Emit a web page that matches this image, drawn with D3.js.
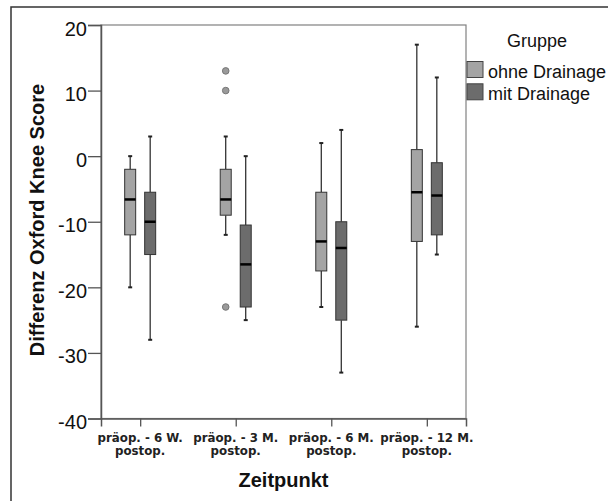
<!DOCTYPE html>
<html><head><meta charset="utf-8">
<script src="https://cdn.jsdelivr.net/npm/d3@7"></script>
<style>body{margin:0;background:#fff;}svg{display:block;}</style>
</head><body>
<svg id="c" width="608" height="501"></svg>
<script>
const categories = ["präop. - 6 W.|postop.", "präop. - 3 M.|postop.", "präop. - 6 M.|postop.", "präop. - 12 M.|postop."];
const groups = ["ohne Drainage", "mit Drainage"];
// [whiskerLow, Q1, median, Q3, whiskerHigh]
const ohneDrainage = [[-20, -12, -6.6, -2, 0], [-12, -9, -6.6, -2, 3], [-23, -17.5, -13, -5.5, 2], [-26, -13, -5.5, 1, 17]];
const mitDrainage = [[-28, -15, -10, -5.5, 3], [-25, -23, -16.5, -10.5, 0], [-33, -25, -14, -10, 4], [-15, -12, -6, -1, 12]];
const ohneOutliers = [[], [13, 10, -23], [], []];
const mitOutliers = [[], [], [], []];
const yTicks = [20, 10, 0, -10, -20, -30, -40];
const colors = ["#a4a4a4", "#6c6c6c"];

const svg = d3.select("#c");
const L = 101, R = 466, T = 25, B = 418.5;
const y = d3.scaleLinear().domain([-40, 20]).range([B, T]);
const x = d3.scalePoint().domain(categories).range([L, R]).padding(0.41);
const sub = d3.scalePoint().domain(groups).range([-10, 10]);

// outer frame
svg.append("path").attr("d", "M11,510V7H620").attr("fill", "none").attr("stroke", "#333").attr("stroke-width", 1.5);

// plot frame
svg.append("rect").attr("x", L).attr("y", T).attr("width", R - L).attr("height", B - T)
  .attr("fill", "none").attr("stroke", "#808080").attr("stroke-width", 1.2);

// y axis
const ya = svg.append("g").attr("transform", `translate(${L},0)`)
  .call(d3.axisLeft(y).tickValues(yTicks).tickSize(13).tickPadding(1).tickFormat(d => String(d)));
ya.select(".domain").attr("stroke", "#555").attr("stroke-width", 1.5);
ya.selectAll(".tick line").attr("stroke", "#555").attr("stroke-width", 1.3);
ya.selectAll(".tick text").attr("font-family", "Liberation Sans, Arial, sans-serif").attr("font-size", 20)
  .attr("fill", "#111").attr("dy", "0.5em");

// x axis
const xa = svg.append("g").attr("transform", `translate(0,${B})`)
  .call(d3.axisBottom(x).tickSize(8).tickFormat(""));
xa.select(".domain").attr("stroke", "#555").attr("stroke-width", 1.5);
xa.selectAll(".tick line").attr("stroke", "#555").attr("stroke-width", 1.3);
categories.forEach(c => {
  const parts = c.split("|");
  const t = svg.append("text").attr("x", x(c)).attr("y", 442).attr("text-anchor", "middle")
    .attr("font-family", "DejaVu Sans, Verdana, sans-serif").attr("font-weight", "bold")
    .attr("font-size", 11.8).attr("fill", "#222");
  parts.forEach((p, i) => t.append("tspan").attr("x", x(c)).attr("dy", i === 0 ? 0 : 13).text(p));
});

// axis titles
svg.append("text").attr("x", (L + R) / 2).attr("y", 487).attr("text-anchor", "middle")
  .attr("font-family", "Liberation Sans, Arial, sans-serif").attr("font-weight", "bold").attr("font-size", 20)
  .attr("fill", "#111").text("Zeitpunkt");
svg.append("text").attr("transform", `translate(44,${(80 + 360) / 2}) rotate(-90)`).attr("text-anchor", "middle")
  .attr("font-family", "Liberation Sans, Arial, sans-serif").attr("font-weight", "bold").attr("font-size", 20)
  .attr("fill", "#111").text("Differenz Oxford Knee Score");

// boxes
const bw = 11, cap = 4;
const series = [ohneDrainage, mitDrainage];
const outl = [ohneOutliers, mitOutliers];
series.forEach((ser, gi) => {
  const g = svg.append("g");
  ser.forEach((s, ci) => {
    const cx = x(categories[ci]) + sub(groups[gi]);
    const [lo, q1, md, q3, hi] = s;
    g.append("line").attr("x1", cx).attr("x2", cx).attr("y1", y(hi)).attr("y2", y(q3)).attr("stroke", "#222").attr("stroke-width", 1.2);
    g.append("line").attr("x1", cx).attr("x2", cx).attr("y1", y(q1)).attr("y2", y(lo)).attr("stroke", "#222").attr("stroke-width", 1.2);
    [hi, lo].forEach(v => g.append("line").attr("x1", cx - cap / 2).attr("x2", cx + cap / 2).attr("y1", y(v)).attr("y2", y(v)).attr("stroke", "#222").attr("stroke-width", 2));
    g.append("rect").attr("x", cx - bw / 2).attr("y", y(q3)).attr("width", bw).attr("height", y(q1) - y(q3))
      .attr("fill", colors[gi]).attr("stroke", "#333").attr("stroke-width", 1);
    g.append("line").attr("x1", cx - bw / 2).attr("x2", cx + bw / 2).attr("y1", y(md)).attr("y2", y(md)).attr("stroke", "#000").attr("stroke-width", 2.5);
    outl[gi][ci].forEach(v => g.append("circle").attr("cx", cx).attr("cy", y(v)).attr("r", 3.3)
      .attr("fill", "#9a9a9a").attr("stroke", "#777").attr("stroke-width", 1));
  });
});

// legend
svg.append("text").attr("x", 537).attr("y", 47).attr("text-anchor", "middle")
  .attr("font-family", "Liberation Sans, Arial, sans-serif").attr("font-size", 18).attr("fill", "#111").text("Gruppe");
groups.forEach((gname, i) => {
  svg.append("rect").attr("x", 467).attr("y", 61.5 + i * 22.3).attr("width", 16).attr("height", 16)
    .attr("fill", colors[i]).attr("stroke", "#444").attr("stroke-width", 1);
  svg.append("text").attr("x", 488).attr("y", 77.5 + i * 22.3)
    .attr("font-family", "Liberation Sans, Arial, sans-serif").attr("font-size", 18).attr("fill", "#111").text(gname);
});
</script>
</body></html>
